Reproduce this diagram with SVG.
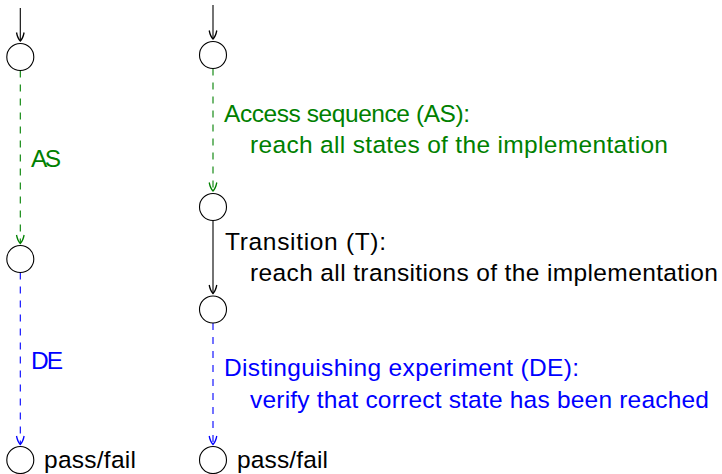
<svg xmlns="http://www.w3.org/2000/svg" width="722" height="474" viewBox="0 0 722 474">
<defs>
<marker id="ah-k" markerUnits="userSpaceOnUse" markerWidth="12" markerHeight="12" viewBox="-10 -6 12 12" refX="0" refY="0" orient="auto" overflow="visible">
<path d="M-8.5,-3.8 C-4.5,-3 -1.2,-1.2 0,0 C-1.2,1.2 -4.5,3 -8.5,3.8" fill="none" stroke="#000" stroke-width="1.3"/>
</marker>
<marker id="ah-g" markerUnits="userSpaceOnUse" markerWidth="12" markerHeight="12" viewBox="-10 -6 12 12" refX="0" refY="0" orient="auto" overflow="visible">
<path d="M-8.5,-3.8 C-4.5,-3 -1.2,-1.2 0,0 C-1.2,1.2 -4.5,3 -8.5,3.8" fill="none" stroke="#008000" stroke-width="1.3"/>
</marker>
<marker id="ah-b" markerUnits="userSpaceOnUse" markerWidth="12" markerHeight="12" viewBox="-10 -6 12 12" refX="0" refY="0" orient="auto" overflow="visible">
<path d="M-8.5,-3.8 C-4.5,-3 -1.2,-1.2 0,0 C-1.2,1.2 -4.5,3 -8.5,3.8" fill="none" stroke="#0000ff" stroke-width="1.3"/>
</marker>
</defs>
<style>
.st{fill:#fff;stroke:#000;stroke-width:1.1}
.t{font-family:"Liberation Sans",Arial,sans-serif;font-size:24.5px}
.k{fill:#000}
.g{fill:#008000}
.b{fill:#0000ff}
.lk{stroke:#000;stroke-width:1.1;fill:none}
.lg{stroke:#008000;stroke-width:1.1;fill:none;stroke-dasharray:7 7}
.lb{stroke:#0000ff;stroke-width:1.1;fill:none;stroke-dasharray:7 7}
</style>
<g id="connectors">
<line class="lk" x1="20.3" y1="8" x2="20.3" y2="41" marker-end="url(#ah-k)"/>
<line class="lg" x1="20.3" y1="70.5" x2="20.3" y2="243.5" marker-end="url(#ah-g)"/>
<line class="lb" x1="20.3" y1="272.5" x2="20.3" y2="444.5" marker-end="url(#ah-b)"/>
<line class="lk" x1="213" y1="5" x2="213" y2="39" marker-end="url(#ah-k)"/>
<line class="lg" x1="213" y1="68.5" x2="213" y2="191" marker-end="url(#ah-g)"/>
<line class="lk" x1="213" y1="220.5" x2="213" y2="293.5" marker-end="url(#ah-k)"/>
<line class="lb" x1="213" y1="323" x2="213" y2="444.5" marker-end="url(#ah-b)"/>
</g>
<g id="L1"><circle class="st" cx="20.3" cy="57" r="13.5"/></g>
<g id="L2"><circle class="st" cx="20.3" cy="259" r="13.5"/></g>
<g id="L3"><circle class="st" cx="20.3" cy="460" r="13.5"/><text class="t k" x="44" y="468" textLength="92">pass/fail</text></g>
<g id="R1"><circle class="st" cx="213" cy="55" r="13.5"/></g>
<g id="R2"><circle class="st" cx="213" cy="207" r="13.5"/></g>
<g id="R3"><circle class="st" cx="213" cy="309.5" r="13.5"/></g>
<g id="R4"><circle class="st" cx="213" cy="460" r="13.5"/><text class="t k" x="237" y="468" textLength="91">pass/fail</text></g>
<g id="labels">
<text class="t g" x="31" y="167" textLength="30">AS</text>
<text class="t b" x="31" y="369" textLength="32">DE</text>
<text class="t g" x="224" y="122" textLength="246">Access sequence (AS):</text>
<text class="t g" x="250" y="153" textLength="418">reach all states of the implementation</text>
<text class="t k" x="225" y="250" textLength="161">Transition (T):</text>
<text class="t k" x="250" y="281" textLength="468">reach all transitions of the implementation</text>
<text class="t b" x="224" y="376" textLength="355">Distinguishing experiment (DE):</text>
<text class="t b" x="250" y="408" textLength="459">verify that correct state has been reached</text>
</g>
</svg>
